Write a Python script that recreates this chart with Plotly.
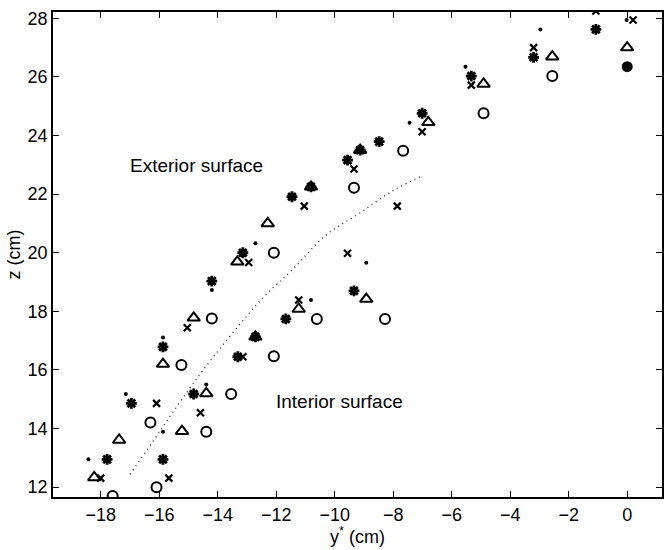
import plotly.graph_objects as go

# ---------------- data ----------------
star_y = [-5.33, -3.20, -1.07, -7.01, -8.48, -9.13, -9.56, -10.81, -11.46, -13.14,
          -14.20, -15.87, -12.71, -13.31, -9.34, -11.67, -16.95, -17.78, -15.87, -14.82]
star_z = [26.03, 26.67, 27.62, 24.76, 23.79, 23.50, 23.16, 22.25, 21.91, 20.00,
          19.03, 16.79, 17.13, 16.45, 18.70, 17.74, 14.86, 12.95, 12.95, 15.18]

cross_y = [-5.33, -3.20, -1.07, 0.20, -7.01, -9.34, -11.04, -7.86, -12.94, -9.56,
           -11.23, -15.04, -13.14, -16.09, -14.59, -18.00, -15.67]
cross_z = [25.72, 27.00, 28.25, 27.94, 24.13, 22.86, 21.59, 21.59, 19.67, 19.98,
           18.39, 17.44, 16.45, 14.86, 14.54, 12.31, 12.31]

tri_y = [-4.91, -2.56, 0.00, -6.80, -9.13, -10.81, -12.29, -13.33, -14.82, -15.87,
         -12.71, -11.23, -8.92, -14.39, -17.37, -15.22, -18.22]
tri_z = [25.76, 26.69, 27.00, 24.45, 23.50, 22.25, 21.00, 19.69, 17.78, 16.20,
         17.13, 18.08, 18.42, 15.20, 13.61, 13.91, 12.33]

circ_y = [-4.91, -2.56, -7.66, -9.34, -12.08, -14.20, -15.24, -12.08, -10.61, -8.28,
          -13.54, -16.30, -14.39, -16.09, -17.59]
circ_z = [24.76, 26.03, 23.48, 22.22, 20.00, 17.76, 16.17, 16.47, 17.74, 17.74,
          15.18, 14.21, 13.89, 12.00, 11.70]

dot_y = [-5.53, -2.97, -0.02, -7.44, -12.71, -14.20, -15.87, -8.92, -10.81, -17.14,
         -15.87, -18.42, -14.39]
dot_z = [26.35, 27.62, 27.94, 24.44, 20.32, 18.73, 17.11, 19.66, 18.39, 15.18,
         13.89, 12.95, 15.50]

filled_y = [0.00]
filled_z = [26.35]

curve_y = [-17.00, -16.26, -15.64, -14.96, -14.28, -12.52, -11.44, -10.30, -9.17, -7.97, -7.01]
curve_z = [12.44, 13.49, 14.40, 15.37, 16.28, 18.39, 19.43, 20.60, 21.34, 22.14, 22.62]

x_ticks = [-18, -16, -14, -12, -10, -8, -6, -4, -2, 0]
z_ticks = [12, 14, 16, 18, 20, 22, 24, 26, 28]

FONT = "Liberation Sans, Arial, Helvetica, sans-serif"
INK = "#000000"

fig = go.Figure()

fig.add_trace(go.Scatter(x=curve_y, y=curve_z, mode="lines",
                         line=dict(color="#222222", width=1.3, dash="1px,4px", shape="spline"),
                         hoverinfo="skip"))
fig.add_trace(go.Scatter(x=tri_y, y=tri_z, mode="markers",
                         marker=dict(symbol="triangle-up-open", size=11, color=INK,
                                     line=dict(width=2, color=INK))))
fig.add_trace(go.Scatter(x=circ_y, y=circ_z, mode="markers",
                         marker=dict(symbol="circle-open", size=10, color=INK,
                                     line=dict(width=2, color=INK))))
fig.add_trace(go.Scatter(x=star_y, y=star_z, mode="markers",
                         marker=dict(symbol="asterisk-open", size=9, color=INK,
                                     line=dict(width=2.8, color=INK))))
fig.add_trace(go.Scatter(x=cross_y, y=cross_z, mode="markers",
                         marker=dict(symbol="x-thin-open", size=7, color=INK,
                                     line=dict(width=2.2, color=INK))))
fig.add_trace(go.Scatter(x=dot_y, y=dot_z, mode="markers",
                         marker=dict(symbol="circle", size=4, color=INK)))
fig.add_trace(go.Scatter(x=filled_y, y=filled_z, mode="markers",
                         marker=dict(symbol="circle", size=11, color=INK)))

fig.add_annotation(x=-14.74, y=22.99, text="Exterior surface", showarrow=False,
                   font=dict(family=FONT, size=19, color=INK), xanchor="center", yanchor="middle")
fig.add_annotation(x=-9.85, y=14.91, text="Interior surface", showarrow=False,
                   font=dict(family=FONT, size=19, color=INK), xanchor="center", yanchor="middle")

axis_common = dict(showgrid=False, zeroline=False, showline=True, linecolor=INK, linewidth=1.8,
                   mirror="ticks", ticks="inside", ticklen=6, tickwidth=1.3, tickcolor=INK,
                   tickfont=dict(family=FONT, size=18, color=INK))

fig.update_xaxes(range=[-19.63, 1.19], tickvals=x_ticks,
                 title=dict(text="y<sup>*</sup> (cm)", font=dict(family=FONT, size=18, color=INK), standoff=4),
                 **axis_common)
fig.update_yaxes(range=[11.665, 28.215], tickvals=z_ticks,
                 title=dict(text="z (cm)", font=dict(family=FONT, size=18, color=INK), standoff=2),
                 **axis_common)

fig.update_layout(width=665, height=550, showlegend=False,
                  plot_bgcolor="white", paper_bgcolor="white",
                  margin=dict(l=53, r=1, t=12, b=53))

fig.write_html("out.html")
